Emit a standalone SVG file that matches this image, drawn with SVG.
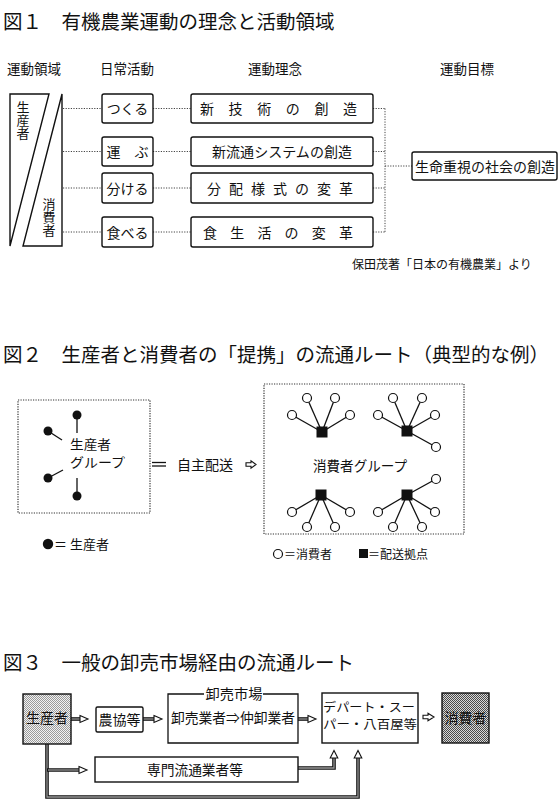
<svg xmlns="http://www.w3.org/2000/svg" width="559" height="807" viewBox="0 0 559 807">
<style>
text{font-family:"Noto Sans CJK JP","Noto Sans CJK SC",sans-serif;fill:#111}
.title{font-size:19.5px}
.hdr{font-size:13.5px}
.t14{font-size:14px}
.t13{font-size:13px}
.t12{font-size:12px}
.v{font-size:13px;writing-mode:vertical-rl}
.box{fill:#fff;stroke:#111;stroke-width:1.4}
.dot{fill:none;stroke:#444;stroke-width:1;stroke-dasharray:1.2 1.4}
.dbox{fill:none;stroke:#333;stroke-width:1.2;stroke-dasharray:1.2 1.3}
.ln{stroke:#111;stroke-width:1.3;fill:none}
.pipe{fill:none;stroke:#111;stroke-width:3.6}
.pipein{fill:none;stroke:#999;stroke-width:1.3}
.head{fill:#fff;stroke:#111;stroke-width:1.1}
.mid{text-anchor:middle}
</style>
<defs>
<pattern id="lightHatch" width="2" height="2" patternUnits="userSpaceOnUse">
<rect width="2" height="2" fill="#f2f2f2"/>
<rect width="1" height="1" fill="#9a9a9a"/>
<rect x="1" y="1" width="1" height="1" fill="#9a9a9a"/>
</pattern>
<pattern id="darkHatch" width="2" height="2" patternUnits="userSpaceOnUse">
<rect width="2" height="2" fill="#d8d8d8"/>
<rect width="1" height="1" fill="#4a4a4a"/>
<rect x="1" y="1" width="1" height="1" fill="#4a4a4a"/>
</pattern>
</defs>
<rect width="559" height="807" fill="#fff"/>

<!-- ===== Figure 1 ===== -->
<text class="title" x="3" y="29">図１　有機農業運動の理念と活動領域</text>
<g id="headers1">
<text class="hdr" x="7" y="74">運動領域</text>
<text class="hdr" x="100" y="74">日常活動</text>
<text class="hdr" x="248" y="74">運動理念</text>
<text class="hdr" x="440" y="74">運動目標</text>
</g>

<g id="connectors1">
<line class="dot" x1="63" y1="108.5" x2="102" y2="108.5"/>
<line class="dot" x1="63" y1="151.5" x2="102" y2="151.5"/>
<line class="dot" x1="63" y1="188" x2="102" y2="188"/>
<line class="dot" x1="63" y1="232" x2="102" y2="232"/>
<line class="dot" x1="153" y1="108.5" x2="191" y2="108.5"/>
<line class="dot" x1="153" y1="151.5" x2="191" y2="151.5"/>
<line class="dot" x1="153" y1="188" x2="191" y2="188"/>
<line class="dot" x1="153" y1="232" x2="191" y2="232"/>
<line class="dot" x1="373" y1="108.5" x2="385" y2="108.5"/>
<line class="dot" x1="373" y1="151.5" x2="385" y2="151.5"/>
<line class="dot" x1="373" y1="188" x2="385" y2="188"/>
<line class="dot" x1="373" y1="232" x2="385" y2="232"/>
<line class="dot" x1="385" y1="108.5" x2="385" y2="232"/>
<line class="dot" x1="385" y1="166" x2="412" y2="166"/>
</g>

<g id="producer-area">
<polygon class="box" points="10,94 49,94 10,246"/>
<text class="v" x="23" y="101">生産者</text>
</g>
<g id="consumer-area">
<polygon class="box" points="62,94 62,246 23,246"/>
<text class="v" x="49" y="198">消費者</text>
</g>

<g id="act-tsukuru"><rect class="box" x="102" y="94" width="51" height="29" rx="2"/><text class="t14 mid" x="127.5" y="114">つくる</text></g>
<g id="act-hakobu"><rect class="box" x="102" y="137" width="51" height="29" rx="2"/><text class="t14 mid" x="127.5" y="157">運　ぶ</text></g>
<g id="act-wakeru"><rect class="box" x="102" y="173" width="51" height="30" rx="2"/><text class="t14 mid" x="127.5" y="193.5">分ける</text></g>
<g id="act-taberu"><rect class="box" x="102" y="217" width="51" height="30" rx="2"/><text class="t14 mid" x="127.5" y="237.5">食べる</text></g>

<g id="idea-gijutsu"><rect class="box" x="191" y="94" width="182" height="29" rx="2"/><text class="t14" x="200" y="114" textLength="157" lengthAdjust="spacing">新技術の創造</text></g>
<g id="idea-ryutsu"><rect class="box" x="191" y="137" width="182" height="29" rx="2"/><text class="t14" x="212" y="157" textLength="140" lengthAdjust="spacing">新流通システムの創造</text></g>
<g id="idea-haibun"><rect class="box" x="191" y="173" width="182" height="30" rx="2"/><text class="t14" x="207" y="193.5" textLength="146" lengthAdjust="spacing">分配様式の変革</text></g>
<g id="idea-shoku"><rect class="box" x="191" y="217" width="182" height="30" rx="2"/><text class="t14" x="203" y="237.5" textLength="150" lengthAdjust="spacing">食生活の変革</text></g>

<g id="goal"><rect class="box" x="412" y="152" width="145" height="28" rx="2"/><text class="t14" x="415" y="171.5" textLength="140" lengthAdjust="spacingAndGlyphs">生命重視の社会の創造</text></g>

<text class="t12" x="352" y="269">保田茂著「日本の有機農業」より</text>

<!-- ===== Figure 2 ===== -->
<text class="title" x="3" y="362">図２　生産者と消費者の「提携」の流通ルート（典型的な例）</text>

<g id="producer-group">
<rect class="dbox" x="18" y="400" width="132" height="113"/>
<line class="ln" x1="77" y1="415" x2="77" y2="433"/>
<line class="ln" x1="48" y1="431" x2="62" y2="440"/>
<line class="ln" x1="48" y1="478" x2="63" y2="470"/>
<line class="ln" x1="77" y1="478" x2="77" y2="496"/>
<circle cx="77" cy="415" r="4.5" fill="#111"/>
<circle cx="48" cy="431" r="4.5" fill="#111"/>
<circle cx="48" cy="478" r="4.5" fill="#111"/>
<circle cx="77" cy="496" r="4.5" fill="#111"/>
<text class="t13"><tspan x="70" y="449" textLength="41" lengthAdjust="spacingAndGlyphs">生産者</tspan><tspan x="70" y="467" textLength="55" lengthAdjust="spacingAndGlyphs">グループ</tspan></text>
</g>

<g id="connectors2">
<line class="ln" x1="152" y1="462.5" x2="166" y2="462.5"/>
<line class="ln" x1="152" y1="466" x2="166" y2="466"/>
<path class="head" d="M246,462.8 H251 V460.8 L256,464.5 L251,468.2 V466.2 H246 Z"/>
</g>
<text class="t14" x="177" y="470">自主配送</text>

<g id="consumer-group">
<rect class="dbox" x="264" y="384" width="200" height="150"/>
<g class="ln">
<line x1="322" y1="432" x2="292" y2="415"/><line x1="322" y1="432" x2="307" y2="398"/><line x1="322" y1="432" x2="335" y2="398"/><line x1="322" y1="432" x2="350" y2="415"/>
<line x1="407" y1="431" x2="378" y2="415"/><line x1="407" y1="431" x2="393" y2="398"/><line x1="407" y1="431" x2="422" y2="398"/><line x1="407" y1="431" x2="435" y2="415"/><line x1="407" y1="431" x2="436" y2="447"/>
<line x1="321" y1="495" x2="292" y2="512"/><line x1="321" y1="495" x2="307" y2="527"/><line x1="321" y1="495" x2="335" y2="527"/><line x1="321" y1="495" x2="350" y2="512"/>
<line x1="407" y1="495" x2="378" y2="512"/><line x1="407" y1="495" x2="393" y2="527"/><line x1="407" y1="495" x2="422" y2="527"/><line x1="407" y1="495" x2="435" y2="512"/><line x1="407" y1="495" x2="436" y2="479"/>
</g>
<g fill="#111">
<rect x="316.5" y="426.5" width="11" height="11"/>
<rect x="401.5" y="425.5" width="11" height="11"/>
<rect x="315.5" y="489.5" width="11" height="11"/>
<rect x="401.5" y="489.5" width="11" height="11"/>
</g>
<g fill="#fff" stroke="#111" stroke-width="1.2">
<circle cx="292" cy="415" r="4.5"/><circle cx="307" cy="398" r="4.5"/><circle cx="335" cy="398" r="4.5"/><circle cx="350" cy="415" r="4.5"/>
<circle cx="378" cy="415" r="4.5"/><circle cx="393" cy="398" r="4.5"/><circle cx="422" cy="398" r="4.5"/><circle cx="435" cy="415" r="4.5"/><circle cx="436" cy="447" r="4.5"/>
<circle cx="292" cy="512" r="4.5"/><circle cx="307" cy="527" r="4.5"/><circle cx="335" cy="527" r="4.5"/><circle cx="350" cy="512" r="4.5"/>
<circle cx="378" cy="512" r="4.5"/><circle cx="393" cy="527" r="4.5"/><circle cx="422" cy="527" r="4.5"/><circle cx="435" cy="512" r="4.5"/><circle cx="436" cy="479" r="4.5"/>
</g>
<text class="t14" x="313" y="471" textLength="94" lengthAdjust="spacingAndGlyphs">消費者グループ</text>
</g>

<g id="legend2">
<circle cx="48" cy="544" r="5.2" fill="#111"/>
<text class="t13" x="54" y="549">＝ 生産者</text>
<circle cx="278" cy="554" r="4.5" fill="#fff" stroke="#111" stroke-width="1.2"/>
<text class="t12" x="284" y="559">＝消費者</text>
<rect x="359" y="549" width="9" height="9" fill="#111"/>
<text class="t12" x="368" y="559">＝配送拠点</text>
</g>

<!-- ===== Figure 3 ===== -->
<text class="title" x="3" y="670">図３　一般の卸売市場経由の流通ルート</text>

<g id="connectors3">
<path class="pipe" d="M71,719 H81"/><path class="pipein" d="M71,719 H81"/>
<path class="head" d="M80,715.5 L88,719 L80,722.5 Z"/>
<path class="pipe" d="M143,719 H155"/><path class="pipein" d="M143,719 H155"/>
<path class="head" d="M154,715.5 L162,719 L154,722.5 Z"/>
<path class="pipe" d="M298,719 H309"/><path class="pipein" d="M298,719 H309"/>
<path class="head" d="M308,715.5 L316,719 L308,722.5 Z"/>
<path class="head" d="M423,715.3 H428 V713.3 L434,717 L428,720.7 V718.7 H423 Z"/>
<path class="pipe" d="M47,744 V797 H358 V757"/><path class="pipein" d="M47,744 V797 H358 V757"/>
<path class="head" d="M354.2,758 L358,750.5 L361.8,758 Z"/>
<path class="pipe" d="M47,770 H80"/><path class="pipein" d="M48,770 H80"/>
<path class="head" d="M79,766.5 L87,770 L79,773.5 Z"/>
<path class="pipe" d="M298,768 H334 V757"/><path class="pipein" d="M298,768 H334 V757"/>
<path class="head" d="M330.2,758 L334,750.5 L337.8,758 Z"/>
</g>

<g id="f3-producer"><rect x="23" y="694" width="48" height="50" fill="url(#lightHatch)" stroke="#111" stroke-width="1.4"/><text class="t14 mid" x="47" y="723">生産者</text></g>
<g id="f3-nokyo"><rect class="box" x="96" y="707" width="47" height="25" rx="1.5"/><text class="t14 mid" x="119.5" y="724.5">農協等</text></g>
<g id="f3-market">
<path class="ln" d="M204,694 H168 V743 H298 V694 H263"/>
<text class="t14" x="205.5" y="699" textLength="57" lengthAdjust="spacingAndGlyphs">卸売市場</text>
<text class="t14" x="171" y="723" textLength="124" lengthAdjust="spacingAndGlyphs">卸売業者⇒仲卸業者</text>
</g>
<g id="f3-retail">
<rect class="box" x="322" y="693" width="96" height="50"/>
<text class="t12"><tspan x="323" y="712" textLength="92" lengthAdjust="spacingAndGlyphs">デパート・スー</tspan><tspan x="323" y="729" textLength="94" lengthAdjust="spacingAndGlyphs">パー・八百屋等</tspan></text>
</g>
<g id="f3-consumer"><rect x="442" y="693" width="47" height="50" fill="url(#darkHatch)" stroke="#111" stroke-width="1.4"/><text class="t14 mid" x="465.5" y="723">消費者</text></g>
<g id="f3-senmon"><rect class="box" x="95" y="757" width="203" height="25"/><text class="t14" x="147" y="775" textLength="96" lengthAdjust="spacingAndGlyphs">専門流通業者等</text></g>
</svg>
